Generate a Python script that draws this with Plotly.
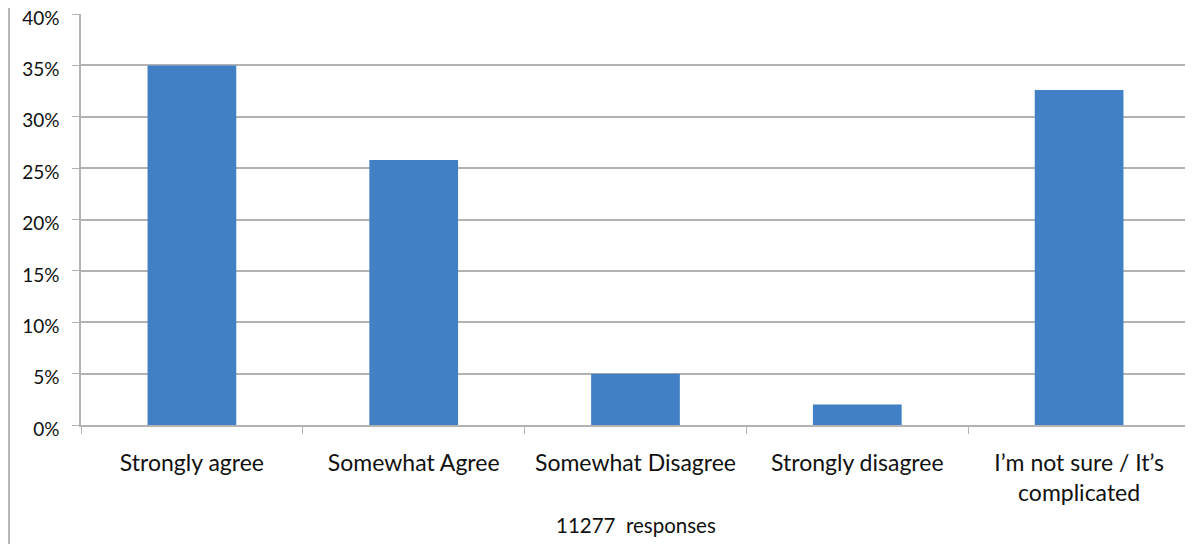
import plotly.graph_objects as go

categories = ["Strongly agree", "Somewhat Agree", "Somewhat Disagree",
              "Strongly disagree", "I’m not sure / It’s<br>complicated"]
values = [35.0, 25.8, 5.0, 2.0, 32.6]
y_ticks = [0, 5, 10, 15, 20, 25, 30, 35, 40]
y_tick_labels = [f"{v}%" for v in y_ticks]
footnote = "11277  responses"

FONT = "Lato, Open Sans, sans-serif"
TEXT = "#111111"
GRID = "#b3b3b3"

fig = go.Figure(go.Bar(
    x=categories, y=values, width=0.4,
    marker=dict(color="#4180c4", line=dict(width=0)),
))

# the page body adds an 8px offset, so the figure is 8px smaller than the window
fig.update_layout(
    width=1185, height=536,
    margin=dict(l=73, r=3, t=6, b=119),
    paper_bgcolor="white", plot_bgcolor="white",
    showlegend=False,
    font=dict(family=FONT, color=TEXT),
    xaxis=dict(
        type="category", tickson="boundaries", ticks="outside", ticklen=7,
        tickcolor=GRID, showline=True, linecolor=GRID, linewidth=1.5,
        showgrid=False, tickfont=dict(size=23, family=FONT, color=TEXT),
        ticklabelstandoff=17, automargin=False, ticklabeloverflow="allow",
    ),
    yaxis=dict(
        range=[0, 40], tickvals=y_ticks, ticktext=y_tick_labels,
        ticks="outside", ticklen=7, tickcolor=GRID,
        showline=True, linecolor=GRID, linewidth=1.5,
        showgrid=True, gridcolor=GRID, gridwidth=1.5, zeroline=False,
        tickfont=dict(size=19, family=FONT, color=TEXT), ticklabelstandoff=9,
        ticklabelshift=4,
        automargin=False, ticklabeloverflow="allow",
    ),
    annotations=[dict(text=footnote, xref="paper", yref="paper", x=0.5, y=-0.243,
                      xanchor="center", yanchor="middle", showarrow=False,
                      font=dict(size=20.5, family=FONT, color=TEXT))],
    shapes=[dict(type="line", xref="paper", yref="paper", x0=-0.0649, x1=-0.0649,
                 y0=-0.3, y1=1.02, line=dict(color="#a0a0a0", width=1.5))],
)

fig.write_html("out.html")
